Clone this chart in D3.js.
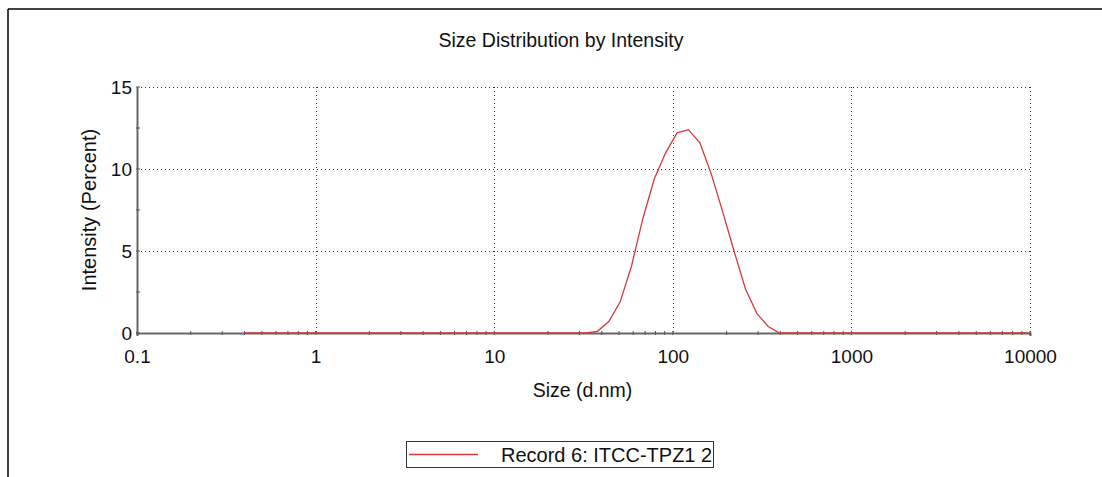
<!DOCTYPE html>
<html lang="en">
	<head>
		<meta charset="utf-8">
		<title>Size Distribution by Intensity</title>
		<script type="text/javascript" src="https://cdn.jsdelivr.net/npm/d3@7"></script>
		<style type="text/css">
			body { margin: 0; background: #fff; }
			text { font-family: Arial, "Liberation Sans", sans-serif; fill: #111; }
		</style>
	</head>
	<body>
		<script type="text/javascript">

			//Size bins (d.nm)
			var sizes = [0.4, 0.4632, 0.5365, 0.6213, 0.7195, 0.8332, 0.9649, 1.117, 1.294, 1.499,
				1.736, 2.01, 2.328, 2.696, 3.122, 3.615, 4.187, 4.849, 5.615, 6.503,
				7.531, 8.721, 10.1, 11.7, 13.54, 15.69, 18.17, 21.04, 24.36, 28.21,
				32.67, 37.84, 43.82, 50.75, 58.77, 68.06, 78.82, 91.28, 105.7, 122.4,
				141.8, 164.2, 190.1, 220.2, 255.0, 295.3, 342.0, 396.1, 458.7, 531.2,
				615.1, 712.4, 825.0, 955.4, 1106, 1281, 1484, 1718, 1990, 2305,
				2669, 3091, 3580, 4145, 4801, 5560, 6439, 7456, 8635, 10000];

			//Intensity (Percent)
			var intensity = [0, 0, 0, 0, 0, 0, 0, 0, 0, 0,
				0, 0, 0, 0, 0, 0, 0, 0, 0, 0,
				0, 0, 0, 0, 0, 0, 0, 0, 0, 0,
				0, 0.1, 0.7, 1.9, 4.1, 7.0, 9.4, 11.0, 12.2, 12.4,
				11.6, 9.7, 7.4, 5.0, 2.7, 1.2, 0.4, 0, 0, 0,
				0, 0, 0, 0, 0, 0, 0, 0, 0, 0,
				0, 0, 0, 0, 0, 0, 0, 0, 0, 0];

			var xTicks = [0.1, 1, 10, 100, 1000, 10000];
			var yTicks = [0, 5, 10, 15];
			var yMinor = [2.5, 7.5, 12.5];

			var seriesName = "Record 6: ITCC-TPZ1 2";

			//Width and height
			var w = 1102;
			var h = 477;
			var x0 = 137, x1 = 1030, y0 = 333, y1 = 87;

			var svg = d3.select("body")
						.append("svg")
						.attr("width", w)
						.attr("height", h);

			//outer frame
			svg.append("line").attr("x1", 8).attr("y1", 9).attr("x2", w).attr("y2", 9)
				.attr("stroke", "#000").attr("stroke-width", 1.5);
			svg.append("line").attr("x1", 8).attr("y1", 9).attr("x2", 8).attr("y2", h)
				.attr("stroke", "#000").attr("stroke-width", 1.5);

			var x = d3.scaleLog().domain([0.1, 10000]).range([x0, x1]);
			var y = d3.scaleLinear().domain([0, 15]).range([y0, y1]);

			//grid
			svg.selectAll("line.vgrid")
			   .data(xTicks.slice(1))
			   .enter()
			   .append("line")
			   .attr("class", "vgrid")
			   .attr("x1", function(d) { return Math.round(x(d)) + 0.5; })
			   .attr("x2", function(d) { return Math.round(x(d)) + 0.5; })
			   .attr("y1", y(15))
			   .attr("y2", y(0))
			   .attr("stroke", "#333")
			   .attr("stroke-dasharray", "1,3");

			svg.selectAll("line.hgrid")
			   .data(yTicks.slice(1))
			   .enter()
			   .append("line")
			   .attr("class", "hgrid")
			   .attr("x1", x0)
			   .attr("x2", x1)
			   .attr("y1", function(d) { return Math.round(y(d)) + 0.5; })
			   .attr("y2", function(d) { return Math.round(y(d)) + 0.5; })
			   .attr("stroke", "#333")
			   .attr("stroke-dasharray", "1,3");

			//x axis
			var xAxis = d3.axisBottom(x)
						  .tickValues(xTicks)
						  .tickFormat(d3.format("~g"))
						  .tickSize(3)
						  .tickPadding(14);
			var gx = svg.append("g")
						.attr("transform", "translate(0," + y0 + ")")
						.call(xAxis);
			gx.select(".domain").attr("stroke", "#666").attr("stroke-width", 2);

			//minor x ticks
			var minorX = [];
			for (var e = -1; e < 4; e++) {
				for (var m = 2; m <= 9; m++) { minorX.push(m * Math.pow(10, e)); }
			}
			svg.selectAll("line.xminor")
			   .data(minorX.concat(xTicks))
			   .enter()
			   .append("line")
			   .attr("class", "xminor")
			   .attr("x1", function(d) { return x(d); })
			   .attr("x2", function(d) { return x(d); })
			   .attr("y1", y0 - 2)
			   .attr("y2", y0 + 2)
			   .attr("stroke", "#555")
			   .attr("stroke-width", 1);

			//y axis
			var yAxis = d3.axisLeft(y)
						  .tickValues(yTicks)
						  .tickSize(0)
						  .tickPadding(5);
			var gy = svg.append("g")
						.attr("transform", "translate(" + x0 + ",0)")
						.call(yAxis);
			gy.select(".domain").attr("stroke", "#666").attr("stroke-width", 2);

			svg.selectAll("line.ytick")
			   .data(yTicks.concat(yMinor))
			   .enter()
			   .append("line")
			   .attr("class", "ytick")
			   .attr("x1", x0 - 1)
			   .attr("x2", x0 + 3)
			   .attr("y1", function(d) { return y(d); })
			   .attr("y2", function(d) { return y(d); })
			   .attr("stroke", "#555");

			svg.selectAll(".tick text")
			   .style("font-size", "19px")
			   .style("font-family", "Arial, 'Liberation Sans', sans-serif")
			   .attr("fill", "#111");
			gx.selectAll(".tick line").remove();
			gy.selectAll(".tick line").remove();

			//curve
			var line = d3.line()
						 .x(function(d, i) { return x(sizes[i]); })
						 .y(function(d) { return y(d); });

			svg.append("path")
			   .datum(intensity)
			   .attr("d", line)
			   .attr("fill", "none")
			   .attr("stroke", "#d43a3a")
			   .attr("stroke-width", 1.3);

			//titles
			svg.append("text")
			   .attr("x", 561)
			   .attr("y", 47)
			   .attr("text-anchor", "middle")
			   .style("font-size", "19.5px")
			   .text("Size Distribution by Intensity");

			svg.append("text")
			   .attr("x", (x0 + x1) / 2 - 1)
			   .attr("y", 397)
			   .attr("text-anchor", "middle")
			   .style("font-size", "19.5px")
			   .text("Size (d.nm)");

			svg.append("text")
			   .attr("transform", "translate(96," + ((y0 + y1) / 2) + ") rotate(-90)")
			   .attr("text-anchor", "middle")
			   .style("font-size", "20px")
			   .text("Intensity (Percent)");

			//legend
			var lg = svg.append("g").attr("transform", "translate(406,441)");
			lg.append("rect")
			  .attr("x", 0.5).attr("y", 0.5)
			  .attr("width", 307).attr("height", 26)
			  .attr("fill", "#fff")
			  .attr("stroke", "#333");
			lg.append("line")
			  .attr("x1", 3).attr("x2", 72)
			  .attr("y1", 13.5).attr("y2", 13.5)
			  .attr("stroke", "#d43a3a")
			  .attr("stroke-width", 1.3);
			lg.append("text")
			  .attr("x", 95)
			  .attr("y", 20.5)
			  .style("font-size", "20px")
			  .text(seriesName);

		</script>
	</body>
</html>
